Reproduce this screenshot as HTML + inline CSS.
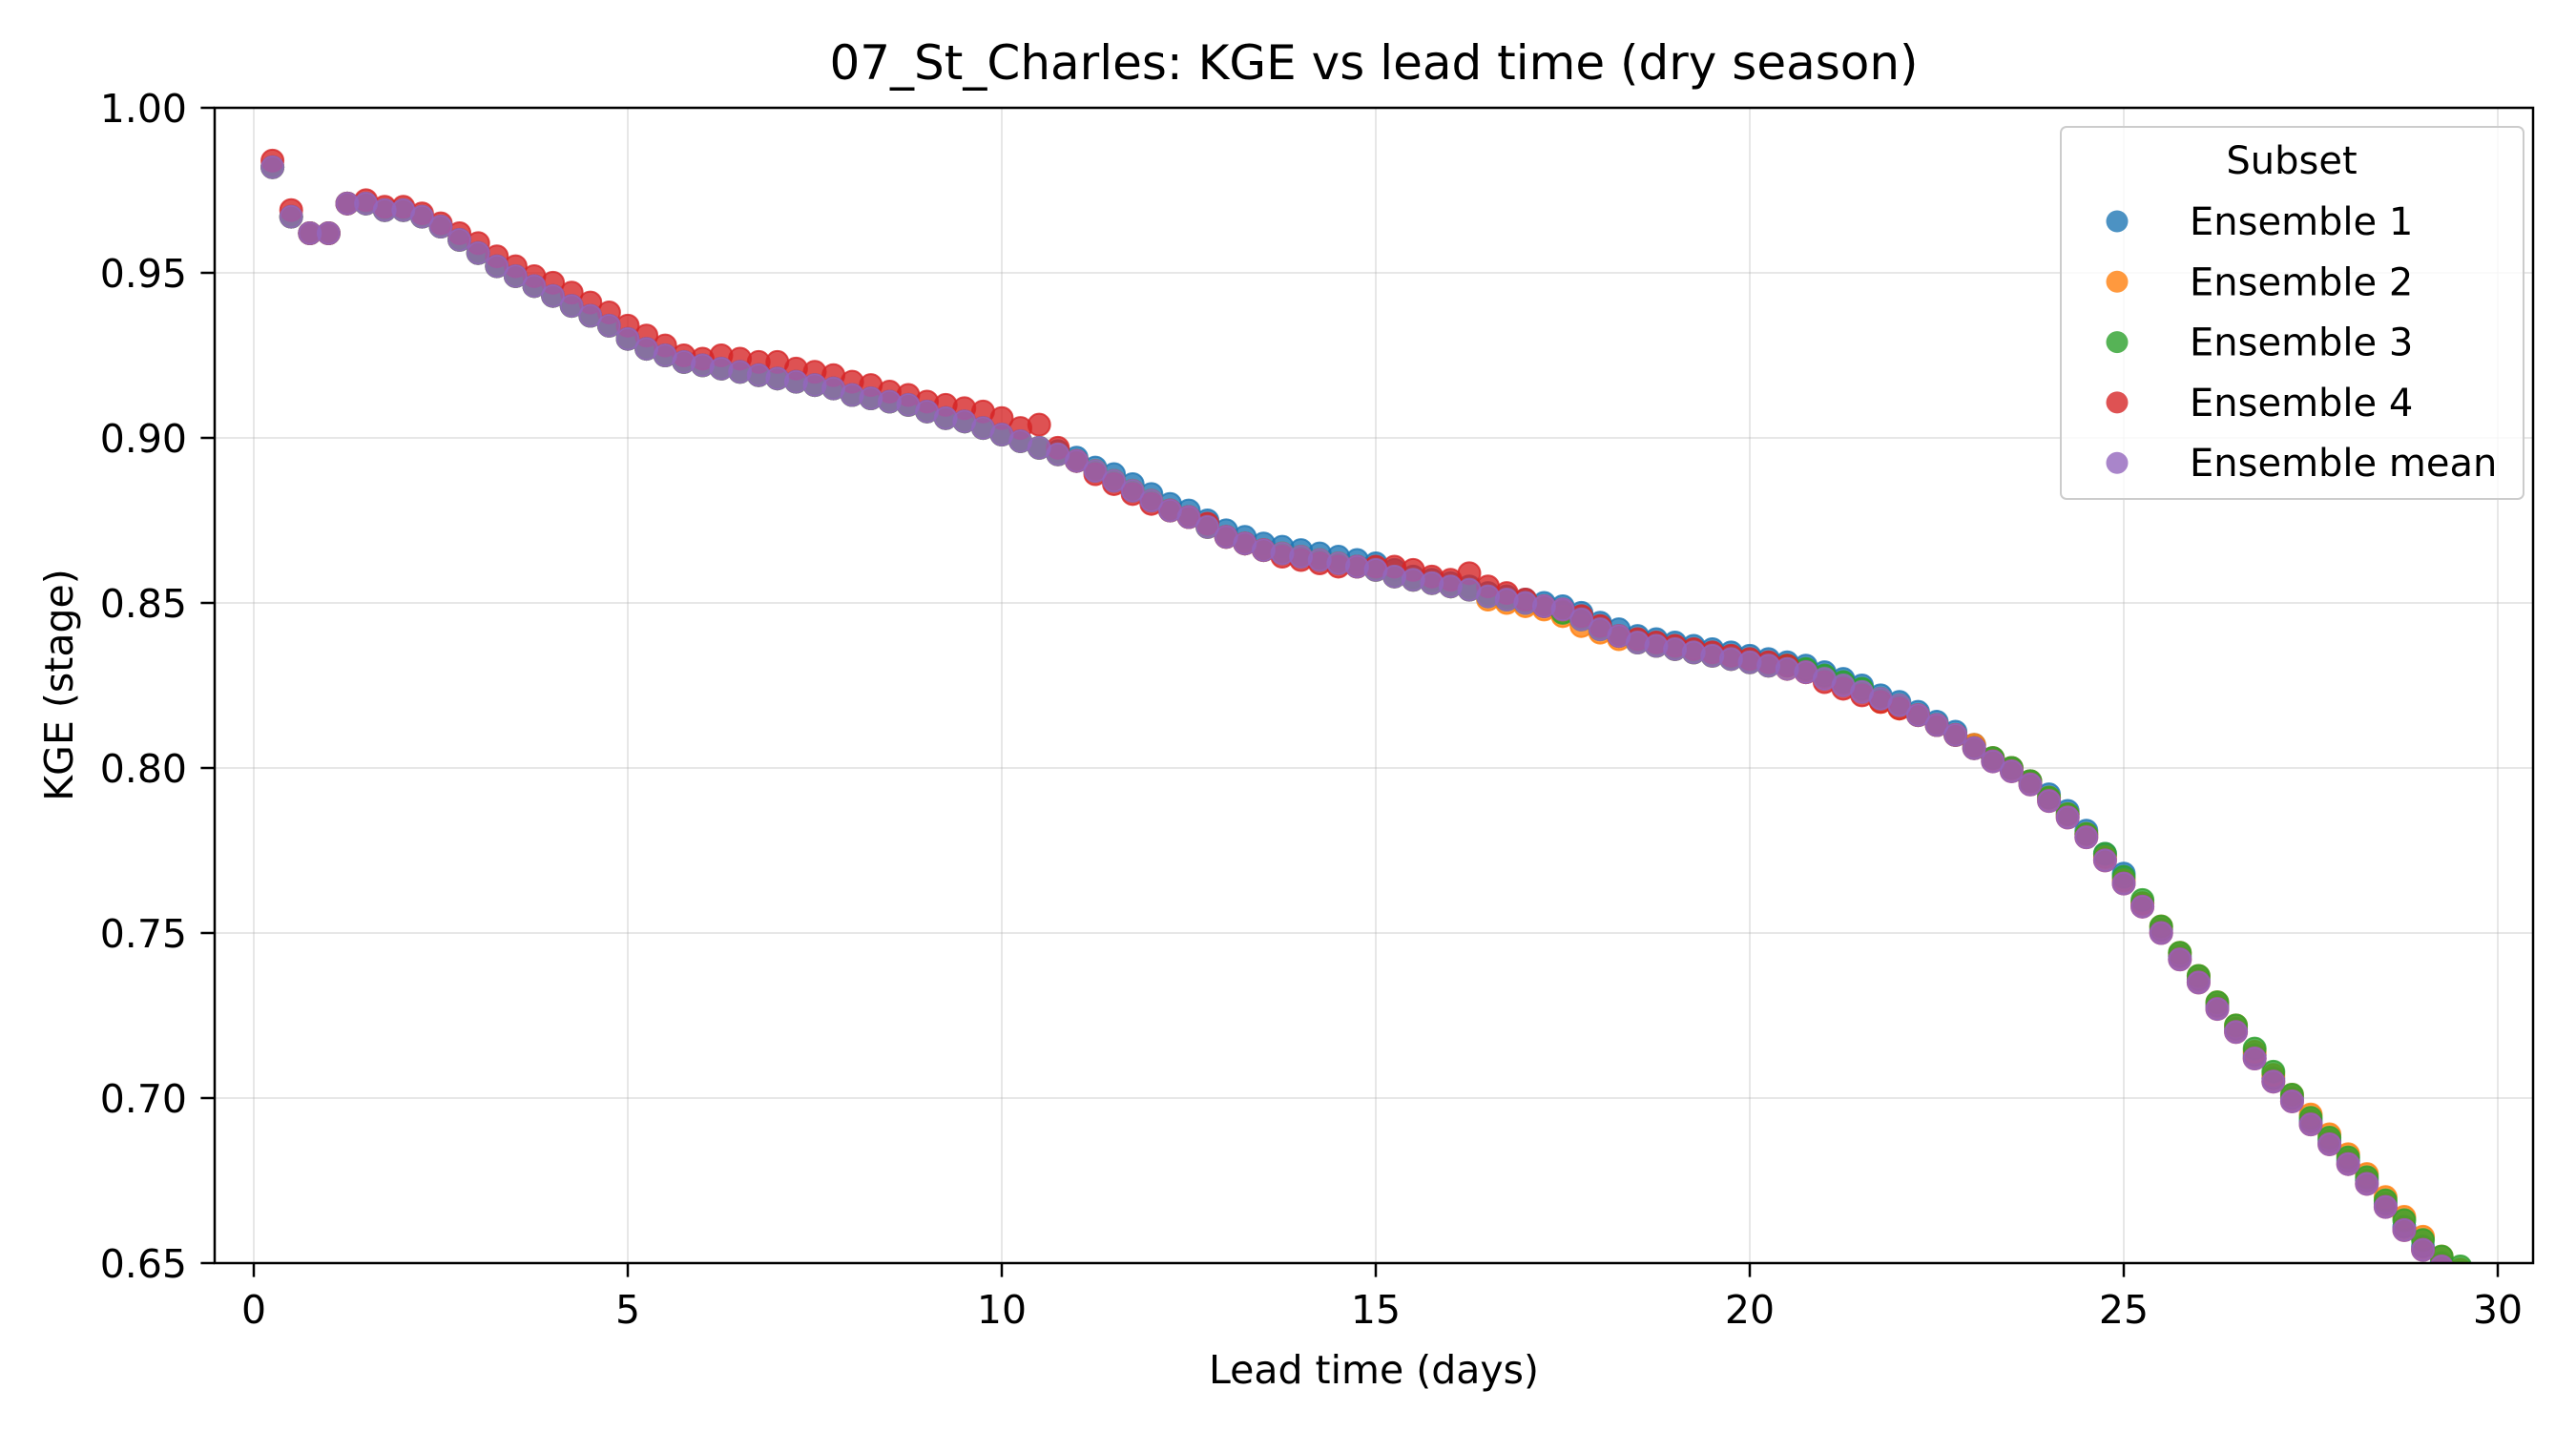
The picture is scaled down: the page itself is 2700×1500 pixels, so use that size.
<!DOCTYPE html>
<html><head><meta charset="utf-8"><style>
html,body{margin:0;padding:0;background:#fff;}
svg{display:block;font-family:"DejaVu Sans","Liberation Sans",sans-serif;}
</style></head><body>
<svg id="chart" width="2700" height="1500" viewBox="0 0 2700 1500" xmlns="http://www.w3.org/2000/svg">
<rect width="2700" height="1500" fill="#fff"/>
<text x="1440" y="83" font-size="50" text-anchor="middle">07_St_Charles: KGE vs lead time (dry season)</text>
<g id="grid"></g>
<defs><clipPath id="plotclip"><rect x="225" y="113" width="2430" height="1211"/></clipPath></defs>
<g id="points" clip-path="url(#plotclip)"></g>
<rect x="225" y="113" width="2430" height="1211" fill="none" stroke="#000" stroke-width="2.5"/>
<g id="ticks"></g>
<text x="1440" y="1450" font-size="41" text-anchor="middle">Lead time (days)</text>
<text transform="translate(76,718) rotate(-90)" font-size="41" text-anchor="middle">KGE (stage)</text>
<g id="legend"></g>
</svg>
<script>
const seriesNames = ["Ensemble 1","Ensemble 2","Ensemble 3","Ensemble 4","Ensemble mean"];
const seriesColors = ["#1f77b4","#ff7f0e","#2ca02c","#d62728","#9467bd"];
const xTicks = [0,5,10,15,20,25,30];
const yTicks = [0.65,0.70,0.75,0.80,0.85,0.90,0.95,1.00];
const yTickLabels = ["0.65","0.70","0.75","0.80","0.85","0.90","0.95","1.00"];
const leadTimes = [0.25,0.5,0.75,1,1.25,1.5,1.75,2,2.25,2.5,2.75,3,3.25,3.5,3.75,4,4.25,4.5,4.75,5,5.25,5.5,5.75,6,6.25,6.5,6.75,7,7.25,7.5,7.75,8,8.25,8.5,8.75,9,9.25,9.5,9.75,10,10.25,10.5,10.75,11,11.25,11.5,11.75,12,12.25,12.5,12.75,13,13.25,13.5,13.75,14,14.25,14.5,14.75,15,15.25,15.5,15.75,16,16.25,16.5,16.75,17,17.25,17.5,17.75,18,18.25,18.5,18.75,19,19.25,19.5,19.75,20,20.25,20.5,20.75,21,21.25,21.5,21.75,22,22.25,22.5,22.75,23,23.25,23.5,23.75,24,24.25,24.5,24.75,25,25.25,25.5,25.75,26,26.25,26.5,26.75,27,27.25,27.5,27.75,28,28.25,28.5,28.75,29,29.25,29.5];
const ensMean = [.982,.967,.962,.962, .971,.971,.969,.969, .967,.964,.960,.956, .952,.949,.946,.943, .940,.937,.934,.930, .927,.925,.923,.922, .921,.920,.919,.918, .917,.916,.915,.913, .912,.911,.910,.908, .906,.905,.903,.901, .899,.897,.895,.893, .890,.887,.884,.881, .878,.876,.873,.870, .868,.866,.865,.864, .863,.862,.861,.860, .858,.857,.856,.855, .854,.852,.851,.850, .849,.848,.845,.842, .840,.838,.837,.836, .835,.834,.833,.832, .831,.830,.829,.827, .825,.823,.821,.819, .816,.813,.810,.806, .802,.799,.795,.790, .785,.779,.772,.765, .758,.750,.742,.735, .727,.720,.712,.705, .699,.692,.686,.680, .674,.667,.660,.654, .649,.646];
const ens1 = [.982,.967,.962,.962, .971,.971,.969,.969, .967,.964,.960,.956, .952,.949,.946,.943, .940,.937,.934,.930, .927,.925,.923,.922, .921,.920,.919,.918, .917,.916,.915,.913, .912,.911,.910,.908, .906,.905,.903,.901, .899,.897,.896,.894, .891,.889,.886,.883, .880,.878,.875,.872, .870,.868,.867,.866, .865,.864,.863,.862, .860,.858,.857,.856, .855,.853,.852,.851, .850,.849,.847,.844, .842,.840,.839,.838, .837,.836,.835,.834, .833,.832,.831,.829, .827,.825,.822,.820, .817,.814,.811,.807, .803,.800,.796,.792, .787,.781,.774,.768, .759,.751,.743,.736, .728,.721,.713,.706, .700,.693,.687,.681, .675,.668,.661,.655, .650,.647];
const ens2 = [.982,.967,.962,.962, .971,.971,.969,.969, .967,.964,.960,.956, .952,.949,.946,.943, .940,.937,.934,.930, .927,.925,.923,.922, .921,.920,.919,.918, .917,.916,.915,.913, .912,.911,.910,.908, .906,.905,.903,.901, .899,.897,.895,.893, .890,.887,.884,.881, .878,.876,.873,.870, .868,.866,.865,.864, .863,.862,.861,.860, .858,.857,.856,.855, .854,.851,.850,.849, .848,.846,.843,.841, .839,.838,.837,.836, .835,.834,.833,.832, .831,.830,.829,.827, .825,.823,.820,.818, .816,.813,.810,.807, .803,.800,.796,.791, .786,.780,.773,.766, .759,.752,.744,.737, .729,.722,.714,.707, .701,.695,.689,.683, .677,.670,.664,.658, .652,.648];
const ens3 = [.982,.967,.962,.962, .971,.971,.969,.969, .967,.964,.960,.956, .952,.949,.946,.943, .940,.937,.934,.930, .927,.925,.923,.922, .921,.920,.919,.918, .917,.916,.915,.913, .912,.911,.910,.908, .906,.905,.903,.901, .899,.897,.895,.893, .890,.887,.884,.881, .878,.876,.873,.870, .868,.866,.865,.864, .863,.862,.861,.860, .858,.857,.856,.855, .854,.852,.851,.850, .849,.847,.845,.842, .840,.838,.837,.836, .835,.834,.833,.832, .831,.831,.830,.828, .826,.824,.821,.819, .816,.813,.810,.806, .803,.800,.796,.791, .786,.780,.774,.767, .760,.752,.744,.737, .729,.722,.715,.708, .701,.694,.688,.682, .676,.669,.663,.657, .652,.649];
const ens4 = [.984,.969,.962,.962, .971,.972,.970,.970, .968,.965,.962,.959, .955,.952,.949,.947, .944,.941,.938,.934, .931,.928,.925,.924, .925,.924,.923,.923, .921,.920,.919,.917, .916,.914,.913,.911, .910,.909,.908,.906, .903,.904,.897,.893, .889,.886,.883,.880, .878,.876,.874,.870, .868,.866,.864,.863, .862,.861,.861,.861, .861,.860,.858,.857, .859,.855,.853,.851, .849,.848,.846,.843, .840,.839,.838,.837, .836,.835,.834,.833, .832,.831,.829,.826, .824,.822,.820,.818, .816,.813,.810,.806, .802,.799,.795,.790, .785,.779,.772,.765, .758,.750,.742,.735, .727,.720,.712,.705, .699,.692,.686,.680, .674,.667,.660,.654, .649,.646];
const allSeries = [ens1, ens2, ens3, ens4, ensMean];

const NS = "http://www.w3.org/2000/svg";
const X0 = 266, PXPERDAY = 78.4, YTOP = 113, YBOT = 1324, YMIN = 0.65, YMAX = 1.0;
function xScale(v){ return X0 + v * PXPERDAY; }
function yScale(v){ return YBOT - (v - YMIN) / (YMAX - YMIN) * (YBOT - YTOP); }
function mk(tag, attrs){ const e = document.createElementNS(NS, tag); for (const k in attrs) e.setAttribute(k, attrs[k]); return e; }

const grid = document.getElementById("grid");
const ticks = document.getElementById("ticks");
xTicks.forEach(t => {
  const x = xScale(t);
  const gl = mk("line", {x1:x, x2:x, y1:YTOP, y2:YBOT, stroke:"#b0b0b0", "stroke-opacity":"0.3", "stroke-width":"2"});
  
  
  grid.appendChild(gl);
  const tk = mk("line", {x1:x, x2:x, y1:YBOT, y2:YBOT+14.6, stroke:"#000", "stroke-width":"2.5"});
  
  
  ticks.appendChild(tk);
  const lb = mk("text", {x:x, y:1387, "font-size":"41", "text-anchor":"middle"});
  lb.textContent = String(t);
  
  
  ticks.appendChild(lb);
});
yTicks.forEach((t, i) => {
  const y = yScale(t);
  const gl = mk("line", {x1:225, x2:2655, y1:y, y2:y, stroke:"#b0b0b0", "stroke-opacity":"0.3", "stroke-width":"2"});
  
  
  grid.appendChild(gl);
  const tk = mk("line", {x1:225-14.6, x2:225, y1:y, y2:y, stroke:"#000", "stroke-width":"2.5"});
  
  
  ticks.appendChild(tk);
  const lb = mk("text", {x:196, y:y+15, "font-size":"41", "text-anchor":"end"});
  lb.textContent = yTickLabels[i];
  
  
  ticks.appendChild(lb);
});

const pts = document.getElementById("points");
allSeries.forEach((vals, s) => {
  const g = mk("g", {fill: seriesColors[s], "fill-opacity":"0.8", stroke: seriesColors[s], "stroke-opacity":"0.8", "stroke-width":"2"});
  
  
  vals.forEach((v, i) => {
    const c = mk("circle", {cx: xScale(leadTimes[i]), cy: yScale(v), r: 11.5});
    
    
    g.appendChild(c);
  });
  pts.appendChild(g);
});

const lg = document.getElementById("legend");
const box = mk("rect", {x:2160, y:133, width:485, height:390, rx:6, fill:"#fff", "fill-opacity":"0.8", stroke:"#ccc", "stroke-width":"2"});


lg.appendChild(box);
const lt = mk("text", {x:2402, y:182, "font-size":"40", "text-anchor":"middle"});
lt.textContent = "Subset";


lg.appendChild(lt);
seriesNames.forEach((n, s) => {
  const y = 232 + s * 63.3;
  const c = mk("circle", {cx:2219, cy:y, r:11.5, fill:seriesColors[s], "fill-opacity":"0.8"});
  
  
  lg.appendChild(c);
  const t = mk("text", {x:2295, y:y+14, "font-size":"40"});
  t.textContent = n;
  
  
  lg.appendChild(t);
});
</script>
</body></html>
